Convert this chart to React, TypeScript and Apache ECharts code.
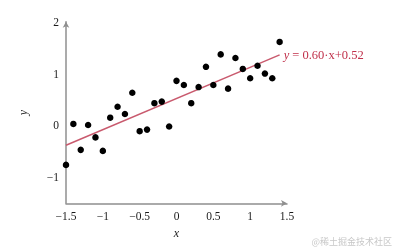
import React, { useEffect, useRef } from "react";
import * as echarts from "echarts";

const xValues = [
  -1.5, -1.4, -1.3, -1.2, -1.1, -1.0, -0.9, -0.8, -0.7, -0.6,
  -0.5, -0.4, -0.3, -0.2, -0.1, 0.0, 0.1, 0.2, 0.3, 0.4,
  0.5, 0.6, 0.7, 0.8, 0.9, 1.0, 1.1, 1.2, 1.3, 1.4,
];
const yValues = [
  -0.76, 0.03, -0.47, 0.01, -0.23, -0.49, 0.15, 0.36, 0.22, 0.63,
  -0.11, -0.08, 0.43, 0.46, -0.02, 0.86, 0.78, 0.43, 0.74, 1.13,
  0.78, 1.37, 0.71, 1.3, 1.09, 0.91, 1.15, 1.0, 0.91, 1.61,
];
const slope = 0.6;
const intercept = 0.52;
const fitRange = [-1.5, 1.4];
const fitLabel = "{i|y} = 0.60·x+0.52";
const watermark = "@稀土掘金技术社区";

const fmt = (v: number) => {
  const s = String(Math.round(v * 10) / 10);
  return s.replace("-", "\u2212");
};

export default function App() {
  const ref = useRef<HTMLDivElement>(null);
  useEffect(() => {
    if (!ref.current) return;
    const chart = echarts.init(ref.current, undefined, { renderer: "svg" });
    const serif = "'Liberation Serif', 'DejaVu Serif', serif";
    const axisColor = "#8f8f8f";
    const fitData = fitRange.map((x) => [x, slope * x + intercept]);
    chart.setOption({
      animation: false,
      grid: { left: 66, right: 109, top: 21.7, bottom: 47.7 },
      xAxis: {
        type: "value",
        min: -1.5,
        max: 1.5,
        interval: 0.5,
        name: "x",
        nameLocation: "middle",
        nameGap: 23,
        nameTextStyle: { fontFamily: serif, fontStyle: "italic", fontSize: 12, color: "#222" },
        axisLine: {
          show: true,
          onZero: false,
          symbol: ["none", "arrow"],
          symbolSize: [5, 6],
          lineStyle: { color: axisColor, width: 1.5 },
        },
        axisTick: { show: false },
        splitLine: { show: false },
        axisLabel: {
          formatter: (v: number) => fmt(v),
          fontFamily: serif,
          fontSize: 11.5,
          color: "#1a1a1a",
          margin: 7,
        },
      },
      yAxis: {
        type: "value",
        min: -1.5,
        max: 2,
        interval: 0.5,
        name: "y",
        nameLocation: "middle",
        nameGap: 37,
        nameRotate: 90,
        nameTextStyle: { fontFamily: serif, fontStyle: "italic", fontSize: 12, color: "#222" },
        axisLine: {
          show: true,
          onZero: false,
          symbol: ["none", "arrow"],
          symbolSize: [5, 6],
          lineStyle: { color: axisColor, width: 1.5 },
        },
        axisTick: { show: false },
        splitLine: { show: false },
        axisLabel: {
          formatter: (v: number) => (Number.isInteger(v) ? fmt(v) : ""),
          fontFamily: serif,
          fontSize: 11.5,
          color: "#1a1a1a",
          margin: 7,
        },
      },
      series: [
        {
          type: "line",
          data: fitData,
          symbol: "none",
          lineStyle: { color: "#c95a6e", width: 1.5 },
          z: 1,
          endLabel: {
            show: true,
            formatter: () => fitLabel,
            distance: 4,
            fontFamily: serif,
            fontSize: 12.5,
            color: "#c0304a",
            rich: {
              i: { fontFamily: serif, fontStyle: "italic", fontSize: 12.5, color: "#c0304a" },
            },
          },
        },
        {
          type: "scatter",
          data: xValues.map((x, i) => [x, yValues[i]]),
          symbol: "circle",
          symbolSize: 6.5,
          itemStyle: { color: "#000", opacity: 1 },
          z: 2,
        },
      ],
      graphic: [
        {
          type: "text",
          right: 4,
          top: 237,
          style: { text: watermark, fontSize: 9, fill: "#c8c8c8", fontFamily: "'Noto Sans CJK SC', sans-serif" },
        },
      ],
    });
    return () => chart.dispose();
  }, []);
  return <div ref={ref} style={{ width: 396, height: 251, position: "fixed", left: 0, top: 0 }} />;
}
